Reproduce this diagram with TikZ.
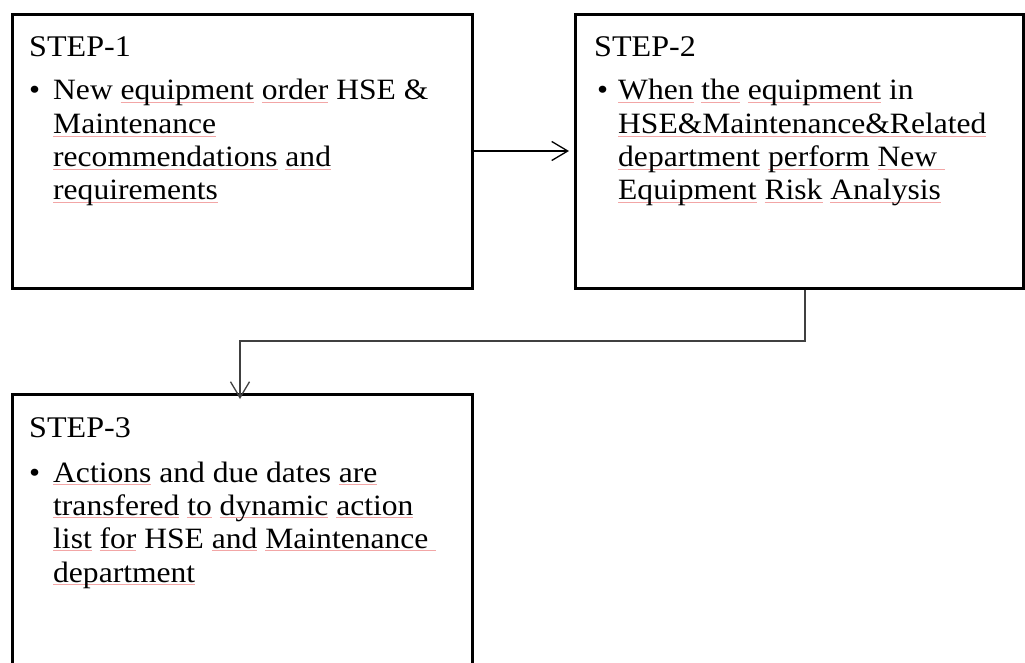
\documentclass[tikz,border=0pt]{standalone}
\usepackage{fontspec}
\setmainfont[FakeStretch=1.07]{Liberation Serif}
\usetikzlibrary{arrows.meta}
\definecolor{splred}{HTML}{F2A6A6}
\newsavebox\splbox
\newcommand\spl[1]{\sbox\splbox{#1}\rlap{\color{splred}\rule[-0.11em]{\wd\splbox}{0.8pt}}\usebox\splbox}
\tikzset{
  box/.style={draw=black, line width=2.6pt, fill=white, anchor=north west, inner sep=0pt},
  title/.style={anchor=base west, inner sep=0pt, font=\fontsize{30}{33.4}\selectfont},
  body/.style={anchor=base west, inner sep=0pt, font=\fontsize{29.5}{33.4}\selectfont},
  arr/.style={line width=1.3pt, -{Straight Barb[length=16pt,width=19pt,line width=1.3pt]}},
}
\begin{document}
\begin{tikzpicture}[x=1pt,y=-1pt]
\useasboundingbox[fill=white] (0,0) rectangle (1025,663);
% boxes
\node[box, minimum width=460pt, minimum height=274pt] (b1) at (11,13) {};
\node[box, minimum width=448pt, minimum height=274pt] (b2) at (574,13) {};
\node[box, minimum width=460pt, minimum height=300pt] (b3) at (11,393) {};
% step 1 text
\node[title] (t1) at (29,57) {STEP-1};
\node[body] (d1) at (29,100) {\textbullet};
\node[body] (x1a) at (53,100) {New \spl{equipment} \spl{order} HSE \&};
\node[body] (x1b) at (53,134) {\spl{Maintenance}};
\node[body] (x1c) at (53,167) {\spl{recommendations} \spl{and}};
\node[body] (x1d) at (53,200) {\spl{requirements}};
% step 2 text
\node[title] (t2) at (594,57) {STEP-2};
\node[body] (d2) at (597,100) {\textbullet};
\node[body] (x2a) at (618,100) {\spl{When} \spl{the} \spl{equipment} in};
\node[body] (x2b) at (618,134) {\spl{HSE\&Maintenance\&Related}};
\node[body] (x2c) at (618,167) {\spl{department} \spl{perform} \spl{New\ }};
\node[body] (x2d) at (618,200) {\spl{Equipment} \spl{Risk} \spl{Analysis}};
% step 3 text
\node[title] (t3) at (29,437) {STEP-3};
\node[body] (d3) at (29,482) {\textbullet};
\node[body] (x3a) at (53,482) {\spl{Actions} and due dates \spl{are}};
\node[body] (x3b) at (53,515) {\spl{transfered} \spl{to} \spl{dynamic} \spl{action}};
\node[body] (x3c) at (53,548) {\spl{list} \spl{for} HSE \spl{and} \spl{Maintenance\ }};
\node[body] (x3d) at (53,582) {\spl{department}};
% connectors
\coordinate (c1) at (805,341);
\coordinate (c2) at (240,341);
\draw[arr] (b1.east |- 0,151) -- ([xshift=-5pt]b2.west |- 0,151);
\draw[arr, draw=black!75] (b2.south -| c1) -- (c1) -- (c2) -- ([yshift=-6pt]b3.north -| c2);
\end{tikzpicture}
\end{document}
